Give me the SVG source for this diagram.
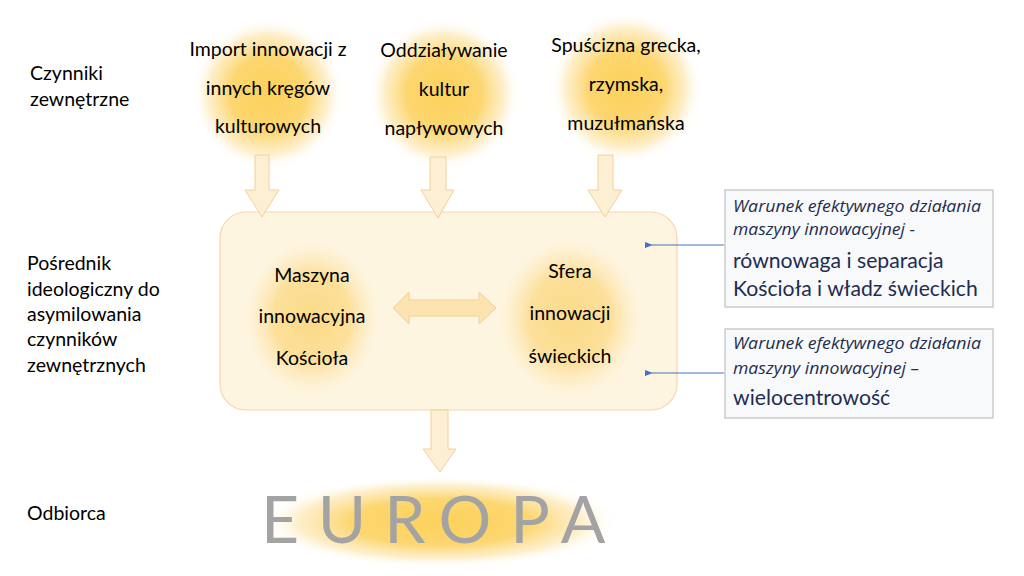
<svg xmlns="http://www.w3.org/2000/svg" width="1024" height="576" viewBox="0 0 1024 576">
<defs>
<radialGradient id="glow" cx="0.5" cy="0.5" r="0.5">
<stop offset="0" stop-color="#fcd25a" stop-opacity="1"/>
<stop offset="0.5" stop-color="#fcd469" stop-opacity="0.95"/>
<stop offset="0.78" stop-color="#fde09a" stop-opacity="0.55"/>
<stop offset="1" stop-color="#ffffff" stop-opacity="0"/>
</radialGradient>
<radialGradient id="glowPale" cx="0.5" cy="0.5" r="0.5">
<stop offset="0" stop-color="#fbdb88" stop-opacity="1"/>
<stop offset="0.55" stop-color="#fcdd92" stop-opacity="0.9"/>
<stop offset="0.8" stop-color="#fde8b8" stop-opacity="0.5"/>
<stop offset="1" stop-color="#fef5e0" stop-opacity="0"/>
</radialGradient>
<marker id="bluehead" markerWidth="8" markerHeight="6" refX="1" refY="3" orient="auto" markerUnits="userSpaceOnUse">
<path d="M8,0 L0,3 L8,6 Z" fill="#4472c4"/>
</marker>
</defs>
<style>
text{font-family:Lato,"Noto Sans","Liberation Sans",sans-serif;fill:#000}
.lbl{font-size:19.5px}
.node{font-size:19.5px;text-anchor:middle}
.barrow{fill:#fdefd3;stroke:#f6cf98;stroke-width:1}
.darrow{fill:#fce3b0;stroke:#f5cf9a;stroke-width:1}
.callout{fill:#f8f9fb;stroke:#bfbfbf;stroke-width:1.2}
.ital{font-family:"Open Sans","Noto Sans",sans-serif;font-size:16.5px;font-style:italic;fill:#1f2d50}
.big{font-size:21.2px;fill:#1f2d50}
.blue{stroke:#4472c4;stroke-width:1.2;fill:none}
</style>
<rect width="1024" height="576" fill="#ffffff"/>

<g id="row-labels">
<text class="lbl" x="30" y="80">Czynniki</text>
<text class="lbl" x="30" y="106">zewnętrzne</text>
<text class="lbl" x="27" y="270">Pośrednik</text>
<text class="lbl" x="27" y="296">ideologiczny do</text>
<text class="lbl" x="27" y="321">asymilowania</text>
<text class="lbl" x="27" y="346">czynników</text>
<text class="lbl" x="27" y="372">zewnętrznych</text>
<text class="lbl" x="27" y="520">Odbiorca</text>
</g>

<g id="node-import">
<circle cx="268" cy="94" r="76" fill="url(#glow)"/>
<text class="node" x="268" y="56">Import innowacji z</text>
<text class="node" x="268" y="95">innych kręgów</text>
<text class="node" x="268" y="133">kulturowych</text>
</g>
<g id="node-oddzialywanie">
<circle cx="444" cy="94" r="76" fill="url(#glow)"/>
<text class="node" x="444" y="57">Oddziaływanie</text>
<text class="node" x="444" y="96">kultur</text>
<text class="node" x="444" y="135">napływowych</text>
</g>
<g id="node-spuscizna">
<circle cx="626" cy="88" r="76" fill="url(#glow)"/>
<text class="node" x="626" y="52">Spuścizna grecka,</text>
<text class="node" x="626" y="91">rzymska,</text>
<text class="node" x="626" y="130">muzułmańska</text>
</g>

<g id="node-posrednik">
<rect x="220" y="212" width="457" height="198" rx="26" ry="26" fill="#fef5e0" stroke="#f8d5ae" stroke-width="1.2"/>
</g>
<g id="node-maszyna">
<ellipse cx="312" cy="318" rx="70" ry="80" fill="url(#glowPale)"/>
<text class="node" x="312" y="282">Maszyna</text>
<text class="node" x="312" y="323">innowacyjna</text>
<text class="node" x="312" y="365">Kościoła</text>
</g>
<g id="node-sfera">
<ellipse cx="570" cy="318" rx="74" ry="82" fill="url(#glowPale)"/>
<text class="node" x="570" y="278">Sfera</text>
<text class="node" x="570" y="320">innowacji</text>
<text class="node" x="570" y="363">świeckich</text>
</g>

<g id="node-callout1">
<rect class="callout" x="725" y="190" width="268" height="117"/>
<text class="ital" x="733" y="212" textLength="248" lengthAdjust="spacingAndGlyphs">Warunek efektywnego działania</text>
<text class="ital" x="733" y="235" textLength="182" lengthAdjust="spacingAndGlyphs">maszyny innowacyjnej -</text>
<text class="big" x="733" y="268">równowaga i separacja</text>
<text class="big" x="733" y="296">Kościoła i władz świeckich</text>
</g>
<g id="node-callout2">
<rect class="callout" x="725" y="329" width="268" height="89"/>
<text class="ital" x="733" y="349" textLength="248" lengthAdjust="spacingAndGlyphs">Warunek efektywnego działania</text>
<text class="ital" x="733" y="374" textLength="186" lengthAdjust="spacingAndGlyphs">maszyny innowacyjnej –</text>
<text class="big" x="733" y="405">wielocentrowość</text>
</g>

<g id="node-europa">
<ellipse cx="440" cy="522" rx="180" ry="46" fill="url(#glow)"/>
<text x="280 342 405 465 530 583" y="543" text-anchor="middle" style="font-size:66px;fill:#a3a3a3">EUROPA</text>
</g>

<g id="connectors">
<path class="barrow" d="M255,155 H269 V190 H279 L262,217 L245,190 H255 Z"/>
<path class="barrow" d="M430,157 H446 V190 H454 L438,218 L421,190 H430 Z"/>
<path class="barrow" d="M598,155 H613 V190 H622 L605,217 L588,190 H598 Z"/>
<path class="barrow" d="M431,410 H448 V449 H456 L440,472 L423,449 H431 Z"/>
<path class="darrow" d="M393,308 L409,292 V300 H479 V292 L496,308 L479,324 V316 H409 V324 Z"/>
<line class="blue" x1="724" y1="245" x2="652" y2="245" marker-end="url(#bluehead)"/>
<line class="blue" x1="724" y1="373" x2="652" y2="373" marker-end="url(#bluehead)"/>
</g>
</svg>
